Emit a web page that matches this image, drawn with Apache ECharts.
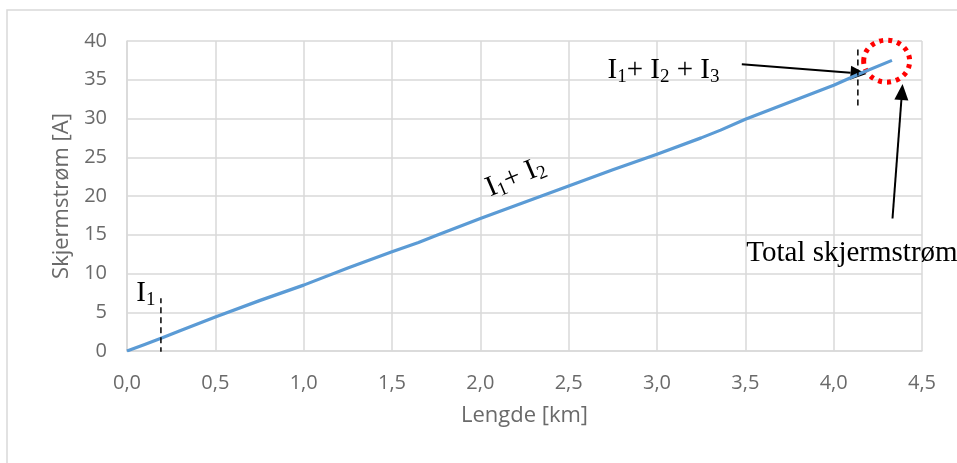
<!DOCTYPE html>
<html>
<head>
<meta charset="utf-8">
<script src="https://cdn.jsdelivr.net/npm/echarts@6/dist/echarts.min.js"></script>
<style>
html,body{margin:0;padding:0;background:#fff;}
#c{width:957px;height:463px;}
</style>
</head>
<body>
<div id="c"></div>
<script>
// Data
const lengthKm = [0, 0.1, 0.2, 0.3, 0.5, 0.75, 1.0, 1.25, 1.5, 1.65, 1.75, 2.0, 2.25, 2.5, 2.75, 3.0, 3.25, 3.36, 3.5, 3.75, 4.0, 4.15, 4.33];
const currentA = [0, 0.85, 1.7, 2.6, 4.4, 6.5, 8.5, 10.7, 12.8, 14.0, 14.9, 17.1, 19.2, 21.3, 23.4, 25.4, 27.5, 28.5, 29.9, 32.1, 34.3, 35.8, 37.5];
const xTicks = [0, 0.5, 1.0, 1.5, 2.0, 2.5, 3.0, 3.5, 4.0, 4.5];
const yTicks = [0, 5, 10, 15, 20, 25, 30, 35, 40];
const xTitle = 'Lengde [km]';
const yTitle = 'Skjermstrøm [A]';
// annotation markers (data coordinates)
const dashI1 = [[0.192, -0.3], [0.192, 6.8]];
const dashI3 = [[4.137, 38.9], [4.137, 31.2]];

const chart = echarts.init(document.getElementById('c'), null, {renderer: 'canvas'});
const grey = '#d9d9d9';
const labelColor = '#6a6a6a';
const font = '"Open Sans", sans-serif';
const serif = '"Liberation Serif", "Times New Roman", serif';

chart.setOption({
  animation: false,
  backgroundColor: '#fff',
  grid: {left: 127, right: 35, top: 41, bottom: 112, containLabel: false},
  xAxis: {
    type: 'value', min: xTicks[0], max: xTicks[xTicks.length - 1], interval: 0.5,
    name: xTitle, nameLocation: 'middle', nameGap: 54,
    nameTextStyle: {color: labelColor, fontSize: 22, fontFamily: font},
    axisLine: {show: true, lineStyle: {color: grey, width: 1.5}},
    axisTick: {show: false},
    axisLabel: {color: labelColor, fontSize: 20, fontFamily: font, margin: 22,
      formatter: v => v.toFixed(1).replace('.', ',')},
    splitLine: {show: true, lineStyle: {color: grey, width: 1.5}}
  },
  yAxis: {
    type: 'value', min: yTicks[0], max: yTicks[yTicks.length - 1], interval: 5,
    name: yTitle, nameLocation: 'middle', nameGap: 53, nameRotate: 90,
    nameTextStyle: {color: labelColor, fontSize: 22, fontFamily: font},
    axisLine: {show: true, lineStyle: {color: grey, width: 1.5}},
    axisTick: {show: false},
    axisLabel: {color: labelColor, fontSize: 20, fontFamily: font, margin: 20},
    splitLine: {show: true, lineStyle: {color: grey, width: 1.5}}
  },
  series: [
    {
      type: 'line', data: lengthKm.map((x, i) => [x, currentA[i]]),
      showSymbol: false, smooth: false,
      lineStyle: {color: '#5b9bd5', width: 3.2, join: 'round'}
    },
    {
      type: 'line', data: dashI1, showSymbol: false, silent: true,
      lineStyle: {color: '#000', width: 1.5, type: [6, 4]}
    },
    {
      type: 'line', data: dashI3, showSymbol: false, silent: true,
      lineStyle: {color: '#000', width: 1.5, type: [6, 4]}
    }
  ]
});

function px(x, y) { return chart.convertToPixel({gridIndex: 0}, [x, y]); }

function arrow(from, to, w) {
  const a = px(from[0], from[1]), b = px(to[0], to[1]);
  const dx = b[0] - a[0], dy = b[1] - a[1];
  const L = Math.hypot(dx, dy), ux = dx / L, uy = dy / L;
  const hl = 16, hw = 7;
  const bx = b[0] - ux * hl, by = b[1] - uy * hl;
  return [
    {type: 'line', shape: {x1: a[0], y1: a[1], x2: bx, y2: by}, style: {stroke: '#000', lineWidth: w}},
    {type: 'polygon', shape: {points: [[b[0], b[1]], [bx - uy * hw, by + ux * hw], [bx + uy * hw, by - ux * hw]]}, style: {fill: '#000'}}
  ];
}

const rich = {
  n: {fontSize: 29, fontFamily: serif, color: '#000', lineHeight: 32},
  s: {fontSize: 19, fontFamily: serif, color: '#000', lineHeight: 18, verticalAlign: 'bottom'}
};

const c = px(4.30, 37.4);
const tI123 = px(2.72, 36.25);
const tTotal = px(3.505, 12.55);
const tI1 = px(0.053, 7.4);
const tI12 = px(2.2, 22.4);

const graphics = [
  {type: 'rect', shape: {x: 7, y: 10, width: 1000, height: 500}, style: {fill: 'none', stroke: grey, lineWidth: 1.5}, z: -1},
  {type: 'ellipse', shape: {cx: c[0], cy: c[1], rx: 23, ry: 21}, style: {fill: 'none', stroke: '#ff0000', lineWidth: 5, lineDash: [4, 5]}},
  ...arrow([3.48, 37.0], [4.186, 35.73], 2),
  ...arrow([4.333, 17.1], [4.39, 34.45], 2),
  {type: 'text', x: tI123[0], y: tI123[1], style: {text: '{n|I}{s|1}{n|+ I}{s|2}{n| + I}{s|3}', rich: rich, verticalAlign: 'middle'}},
  {type: 'text', x: tTotal[0], y: tTotal[1], style: {text: 'Total skjermstrøm', fontSize: 29, fontFamily: serif, fill: '#000', verticalAlign: 'middle'}},
  {type: 'text', x: tI1[0], y: tI1[1], style: {text: '{n|I}{s|1}', rich: rich, verticalAlign: 'middle'}},
  {type: 'text', x: tI12[0], y: tI12[1], rotation: 23 * Math.PI / 180, style: {text: '{n|I}{s|1}{n|+ I}{s|2}', rich: rich, verticalAlign: 'middle', align: 'center'}}
];
chart.setOption({graphic: graphics});
</script>
</body>
</html>
